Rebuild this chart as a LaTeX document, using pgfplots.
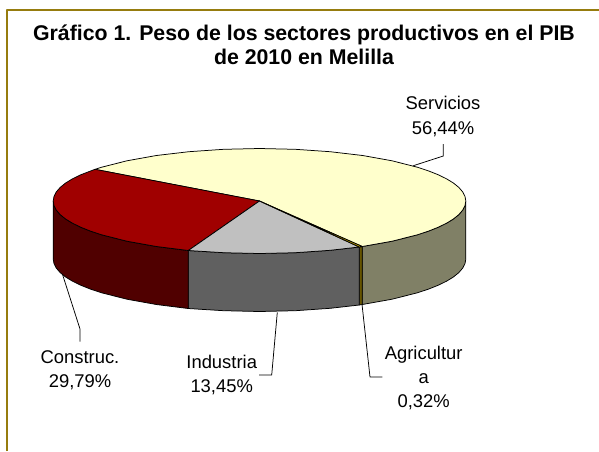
\documentclass[border=0pt]{standalone}
\usepackage{fontspec}
\setmainfont{Liberation Sans}
\usepackage{pgfplots}
\pgfplotsset{compat=1.18}
\definecolor{frameol}{HTML}{967C0E}
\definecolor{servtop}{HTML}{FFFFCC}
\definecolor{servside}{HTML}{808066}
\definecolor{constop}{HTML}{A00000}
\definecolor{consside}{HTML}{500000}
\definecolor{indtop}{HTML}{C0C0C0}
\definecolor{indside}{HTML}{606060}
\definecolor{agrtop}{HTML}{CCAA00}
\definecolor{agrside}{HTML}{665500}
\begin{document}
\begin{tikzpicture}
\begin{axis}[
    width=599pt, height=451pt, scale only axis,
    xmin=0, xmax=599, ymin=0, ymax=451,
    y dir=reverse,
    hide axis,
    clip=true,
    every axis plot/.append style={line width=0.75pt, line join=round},
]
% frame, runs off the right and bottom edges
\addplot[draw=frameol, line width=2pt] coordinates {(7,451) (7,10) (599,10)};

% side walls (top edge + 58 px)
\addplot[draw=black, fill=servside] coordinates {
(362.3,246.5) (392.1,241.2) (417.5,234.75) (428.5,231.1) (438.2,227.25) (446.5,223.2) (453.4,219) (458.8,214.6) (462.7,210.1) (465,205.6) (465.8,201)
(465.8,259) (465,263.6) (462.7,268.1) (458.8,272.6) (453.4,277) (446.5,281.2) (438.2,285.25) (428.5,289.1) (417.5,292.75) (392.1,299.2) (362.3,304.5)} -- cycle;
\addplot[draw=black, fill=agrside] coordinates {
(359.3,247) (362.3,246.5) (362.3,304.5) (359.3,305)} -- cycle;
\addplot[draw=black, fill=indside] coordinates {
(188.3,250.5) (223.7,252.7) (259.5,253.5) (295.3,252.7) (330.1,250.3) (359.3,247)
(359.3,305) (330.1,308.3) (295.3,310.7) (259.5,311.5) (223.7,310.7) (188.3,308.5)} -- cycle;
\addplot[draw=black, fill=consside] coordinates {
(53.2,201) (54,205.6) (56.3,210.1) (60.2,214.6) (65.6,219) (72.5,223.2) (80.8,227.25) (90.5,231.1) (101.5,234.75) (126.9,241.2) (156.35,246.5) (188.3,250.5)
(188.3,308.5) (156.35,304.5) (126.9,299.2) (101.5,292.75) (90.5,289.1) (80.8,285.25) (72.5,281.2) (65.6,277) (60.2,272.6) (56.3,268.1) (54,263.6) (53.2,259)} -- cycle;

% top faces, each from the apex
\addplot[draw=black, fill=servtop] coordinates {
(259.5,201) (95,169.3) (101.5,167.25) (126.9,160.8) (156.35,155.5) (188.9,151.7) (223.7,149.3) (259.5,148.5) (295.3,149.3) (330.1,151.7) (362.65,155.5) (392.1,160.8) (417.5,167.25) (428.5,170.9) (438.2,174.75) (446.5,178.8) (453.4,183) (458.8,187.4) (462.7,191.9) (465,196.4) (465.8,201) (465,205.6) (462.7,210.1) (458.8,214.6) (453.4,219) (446.5,223.2) (438.2,227.25) (428.5,231.1) (417.5,234.75) (392.1,241.2) (362.3,246.5)} -- cycle;
\addplot[draw=black, fill=constop] coordinates {
(259.5,201) (188.3,250.5) (156.35,246.5) (126.9,241.2) (101.5,234.75) (90.5,231.1) (80.8,227.25) (72.5,223.2) (65.6,219) (60.2,214.6) (56.3,210.1) (54,205.6) (53.2,201) (54,196.4) (56.3,191.9) (60.2,187.4) (65.6,183) (72.5,178.8) (80.8,174.75) (95,169.3)} -- cycle;
\addplot[draw=black, fill=indtop] coordinates {
(259.5,201) (359.3,247) (330.1,250.3) (295.3,252.7) (259.5,253.5) (223.7,252.7) (188.3,250.5)} -- cycle;
\addplot[draw=black, fill=agrtop] coordinates {
(259.5,201) (362.3,246.5) (359.3,247)} -- cycle;

% leader lines
\addplot[draw=black] coordinates {(413.3,165.7) (443.3,156) (443.3,144)};
\addplot[draw=black] coordinates {(62.7,275) (80,329) (80,341.7)};
\addplot[draw=black] coordinates {(277.3,312.3) (271.7,375) (259,375)};
\addplot[draw=black] coordinates {(362,304.3) (370,377) (382.3,377)};

% title and labels, one node per line on its baseline
\tikzset{tx/.style={anchor=base, inner sep=0pt, font=\fontsize{18.4}{18.4}\selectfont},
         tt/.style={anchor=base, inner sep=0pt, font=\fontsize{21.3}{21.3}\selectfont\bfseries}}
\node[tt] at (axis cs:304,40) {Gráfico 1. Peso de los sectores productivos en el PIB};
\node[tt] at (axis cs:304,64) {de 2010 en Melilla};
\node[tx] at (axis cs:443,109) {Servicios};
\node[tx] at (axis cs:443,134.3) {56,44\%};
\node[tx] at (axis cs:80,363) {Construc.};
\node[tx] at (axis cs:80,387.7) {29,79\%};
\node[tx] at (axis cs:221.7,368.3) {Industria};
\node[tx] at (axis cs:221.7,392.3) {13,45\%};
\node[tx] at (axis cs:423.7,359) {Agricultur};
\node[tx] at (axis cs:423.7,383) {a};
\node[tx] at (axis cs:423.7,407.3) {0,32\%};
\end{axis}
\path (current axis.south west) rectangle (current axis.north east);
\end{tikzpicture}
\end{document}
